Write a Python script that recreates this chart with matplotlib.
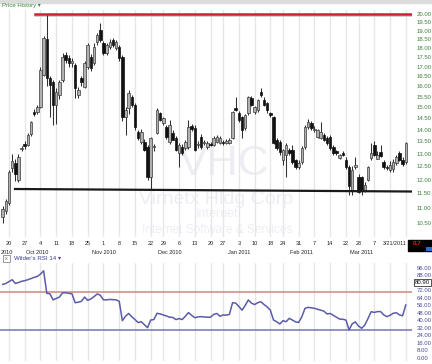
import matplotlib
matplotlib.use('Agg')
import matplotlib.pyplot as plt
import numpy as np
import pandas as pd
from matplotlib.patches import Rectangle
from matplotlib.ticker import NullLocator, FixedLocator

plt.rcParams['font.family'] = ['Liberation Sans', 'DejaVu Sans']

W, H = 432, 364

# ---------------- data ----------------
holidays = ['2010-11-25', '2010-12-24', '2011-01-17', '2011-02-21']
start_date = '2010-09-16'
end_date = '2011-03-21'

opens = [10.70, 10.90, 11.17, 12.45, 12.65, 12.00, 13.18, 13.40, 13.37, 13.80,
         14.80, 14.79, 15.01, 16.57, 18.50, 16.41, 16.21, 15.11, 15.58, 16.31,
         17.62, 17.46, 17.20, 17.08, 15.60, 16.41, 15.96, 16.98, 17.51, 17.19,
         18.34, 19.03, 18.28, 17.73, 18.06, 18.45, 18.00, 18.06, 17.51, 14.56,
         14.97, 15.48, 15.11, 13.91, 13.49, 13.49, 13.28, 12.11, 13.26, 13.87,
         14.74, 14.30, 14.12, 13.49, 13.87, 13.66, 13.04, 13.28, 13.24, 13.28,
         14.15, 14.08, 13.35, 13.70, 13.43, 13.28, 13.40, 13.37, 13.49, 13.45,
         13.47, 13.45, 13.45, 13.66, 14.97, 14.74, 14.56, 14.08, 14.74, 15.43,
         14.79, 14.88, 15.72, 15.34, 15.20, 14.74, 14.56, 13.57, 13.49, 12.76,
         12.96, 13.16, 13.16, 12.76, 12.49, 12.68, 13.28, 14.12, 14.30, 14.00,
         13.70, 13.66, 13.78, 13.66, 13.70, 13.28, 13.10, 12.84, 13.04, 12.76,
         12.46, 11.63, 12.49, 12.11, 12.11, 11.63, 12.00, 12.84, 13.37, 12.80,
         13.08, 12.68, 12.46, 12.38, 12.40, 12.65, 13.04, 12.76, 12.68]
highs = [11.05, 11.30, 12.35, 13.00, 12.80, 13.00, 13.30, 13.50, 13.85, 14.40,
         14.90, 15.10, 17.00, 18.70, 20.00, 16.50, 16.30, 15.90, 16.30, 17.73,
         17.80, 17.60, 17.45, 17.20, 15.95, 16.50, 17.30, 18.30, 17.70, 18.30,
         18.85, 19.46, 18.40, 18.30, 18.50, 18.55, 18.45, 18.15, 17.60, 15.00,
         15.80, 15.60, 15.20, 14.00, 14.05, 13.60, 13.35, 13.70, 13.40, 14.97,
         14.80, 14.55, 14.20, 14.43, 14.00, 13.75, 13.45, 13.40, 13.55, 14.43,
         14.25, 14.20, 13.50, 13.80, 13.55, 13.50, 13.48, 13.75, 13.78, 13.72,
         13.55, 13.60, 13.65, 14.85, 15.48, 14.85, 14.60, 14.70, 15.55, 15.55,
         15.05, 15.40, 15.91, 15.50, 15.25, 14.80, 14.60, 13.65, 13.55, 13.20,
         13.45, 13.25, 13.35, 12.80, 12.75, 13.30, 14.20, 14.45, 14.40, 14.15,
         14.05, 14.34, 13.85, 13.75, 13.78, 13.35, 13.15, 13.00, 13.10, 12.85,
         12.55, 12.50, 12.85, 12.20, 12.15, 11.90, 12.50, 13.45, 13.50, 13.10,
         13.37, 12.75, 12.55, 12.70, 12.80, 12.95, 13.10, 12.85, 13.49]
lows = [10.50, 10.80, 11.10, 12.30, 11.95, 11.90, 13.10, 13.20, 13.30, 13.75,
        14.60, 14.70, 14.95, 16.50, 16.00, 14.56, 14.21, 14.25, 15.40, 16.20,
        17.20, 17.00, 17.00, 15.43, 15.43, 16.00, 15.90, 16.90, 16.80, 17.10,
        18.20, 18.35, 17.60, 17.60, 17.95, 18.05, 17.90, 17.30, 14.40, 13.78,
        14.70, 15.00, 14.00, 13.55, 13.40, 13.10, 12.00, 11.63, 13.10, 13.80,
        14.40, 14.20, 13.60, 13.40, 13.55, 13.10, 12.49, 12.95, 13.15, 13.20,
        13.95, 13.10, 13.25, 13.20, 13.35, 13.20, 13.30, 13.30, 13.45, 13.40,
        13.35, 13.38, 13.40, 13.60, 14.85, 14.35, 13.66, 14.00, 14.65, 15.05,
        14.70, 14.80, 15.50, 15.05, 14.75, 14.55, 13.40, 13.15, 12.95, 12.55,
        12.11, 12.95, 12.60, 12.40, 12.40, 12.60, 13.20, 14.05, 14.00, 13.90,
        13.65, 13.60, 13.50, 13.35, 13.15, 12.95, 12.95, 12.80, 12.90, 12.40,
        11.45, 11.46, 12.40, 11.50, 11.46, 11.55, 11.95, 12.75, 12.90, 12.80,
        12.85, 12.40, 12.35, 12.30, 12.30, 12.55, 12.70, 12.50, 12.60]
closes = [10.95, 11.25, 12.30, 12.70, 12.20, 12.88, 13.22, 13.30, 13.78, 14.34,
          14.70, 15.01, 16.82, 18.57, 16.41, 16.06, 15.11, 15.72, 16.21, 17.51,
          17.35, 17.19, 17.30, 15.91, 15.80, 16.21, 17.19, 18.17, 16.93, 18.06,
          18.74, 18.45, 17.73, 18.17, 18.34, 18.17, 18.34, 17.46, 14.56, 14.88,
          15.67, 15.11, 14.12, 13.66, 13.91, 13.16, 12.11, 13.66, 13.30, 14.88,
          14.43, 14.52, 13.70, 14.21, 13.57, 13.16, 13.37, 13.04, 13.49, 14.12,
          14.05, 13.16, 13.38, 13.28, 13.46, 13.45, 13.36, 13.66, 13.70, 13.66,
          13.43, 13.50, 13.57, 14.79, 14.88, 14.43, 13.99, 14.65, 15.48, 15.11,
          15.01, 15.34, 15.58, 15.11, 14.88, 14.65, 13.45, 13.24, 13.08, 13.16,
          13.37, 13.04, 12.68, 12.49, 12.65, 13.24, 14.12, 14.34, 14.08, 14.02,
          13.99, 13.91, 13.57, 13.45, 13.24, 13.04, 13.02, 12.96, 12.96, 12.49,
          11.78, 12.38, 12.55, 11.56, 11.63, 11.82, 12.46, 13.04, 12.96, 12.96,
          12.90, 12.46, 12.44, 12.57, 12.68, 12.88, 12.76, 12.60, 13.45]
rsi = [78.5, 79.5, 81.5, 83.5, 79.5, 80.5, 81.8, 82.5, 83.5, 84.8,
       86.0, 87.0, 89.5, 93.0, 69.0, 68.5, 62.0, 63.5, 65.0, 69.5,
       69.5, 69.0, 68.5, 59.0, 59.5, 60.5, 65.0, 61.5, 63.0, 65.5,
       68.3, 67.0, 62.0, 62.0, 62.5, 62.2, 62.0, 60.5, 39.8, 44.5,
       47.5, 44.0, 41.0, 37.8, 38.7, 35.5, 32.3, 40.5, 41.0, 47.7,
       47.0, 45.9, 44.8, 43.5, 43.3, 41.0, 42.0, 41.0, 44.5, 48.4,
       45.5, 43.0, 43.8, 44.1, 43.8, 43.5, 43.5, 46.5, 47.5, 44.5,
       45.9, 45.7, 46.5, 59.0, 58.5, 55.0, 51.0, 56.0, 61.9, 58.5,
       57.0, 59.0, 60.0, 57.0, 54.5, 51.0, 40.5, 38.7, 36.3, 39.8,
       38.7, 42.3, 40.5, 38.5, 38.0, 44.0, 53.0, 54.0, 53.5, 53.0,
       52.0, 51.0, 50.0, 47.0, 47.5, 45.5, 43.5, 41.5, 41.3, 40.5,
       30.0, 36.5, 38.5, 34.0, 31.7, 35.2, 42.0, 49.4, 48.6, 49.5,
       49.5, 46.0, 44.1, 45.5, 47.7, 48.3, 46.0, 45.0, 56.5]

price_ticks = [20.0, 19.5, 19.0, 18.5, 18.0, 17.5, 17.0, 16.5, 16.0, 15.5, 15.0,
               14.5, 14.0, 13.5, 13.0, 12.5, 12.0, 11.5, 11.0, 10.5]
rsi_ticks = [96, 88, 72, 64, 56, 48, 40, 32, 24, 16, 8, 0]
rsi_box_value = 80.90
rsi_upper, rsi_lower = 70, 30
resistance_level = 20.0
resistance_start = '2010-09-30'
support_start, support_end = 11.66, 11.57
month_labels = ['2010', 'Oct 2010', 'Nov 2010', 'Dec 2010', 'Jan 2011',
                'Feb 2011', 'Mar 2011']
last_label = '3/21/2011'

# ---------------- dates ----------------
dates = pd.bdate_range(start_date, end_date)
dates = dates[~dates.isin(pd.to_datetime(holidays))]
n = len(dates)
idx = np.arange(n)
o = np.array(opens); h = np.array(highs); l = np.array(lows); c = np.array(closes)

wk = pd.Series(idx, index=dates)
week_first = wk.groupby(dates.to_period('W-SUN')).first().values
week_first = [int(i) for i in week_first if dates[i] >= pd.Timestamp('2010-09-20')]
month_first = wk.groupby(dates.to_period('M')).first().values

XMIN, XMAX = -0.857, 129.98

fig = plt.figure(figsize=(W / 100, H / 100), dpi=100)
fig.patch.set_facecolor('white')

def box(left, top, right, bottom):
    return [left / W, 1 - bottom / H, (right - left) / W, (bottom - top) / H]

fig.patches.append(Rectangle((0, 1 - 2.5 / H), 1, 2.5 / H, transform=fig.transFigure,
                             color='#dcdcdc', zorder=0))

# ---------------- price panel ----------------
ax = fig.add_axes(box(0, 10, 412, 237))
ax.set_yscale('log')
ax.set_ylim(10.056, 20.248)
ax.set_xlim(XMIN, XMAX)
for s in ax.spines.values():
    s.set_visible(False)

ax.set_xticks(week_first)
ax.grid(axis='x', color='#e6e6e6', lw=1.0, zorder=0)
ax.tick_params(axis='x', length=0, pad=3.2, labelsize=4.0, colors='#222222')
xlabels = [str(dates[i].day) for i in week_first]
xlabels[-1] = ''
xlabels[-2] = ''
ax.set_xticklabels(xlabels)

ax.yaxis.tick_right()
ax.yaxis.set_major_locator(FixedLocator(price_ticks))
ax.yaxis.set_minor_locator(NullLocator())
ax.set_yticklabels(['%.2f' % v for v in price_ticks])
ax.tick_params(axis='y', length=0, pad=3.5, labelsize=4.3, colors='#3d7f3d')

# watermark
wm = '#eceef3'
ax.text(0.545, 0.32, 'VHC', transform=ax.transAxes, ha='center', va='center',
        fontsize=31, color=wm, zorder=0)
ax.text(0.525, 0.163, 'Virnetx Hldg Corp', transform=ax.transAxes, ha='center',
        va='center', fontsize=14, color=wm, zorder=0)
ax.text(0.527, 0.101, 'Internet', transform=ax.transAxes, ha='center', va='center',
        fontsize=9, color=wm, zorder=0)
ax.text(0.527, 0.031, 'Internet Software & Services', transform=ax.transAxes,
        ha='center', va='center', fontsize=8.6, color=wm, zorder=0)

# candles
up = c >= o
ax.vlines(idx, l, h, color='#303030', lw=0.75, zorder=3)
body_lo = np.minimum(o, c)
body_h = np.maximum(np.abs(c - o), 0.025)
ax.bar(idx[up], body_h[up], bottom=body_lo[up], width=0.8, color='#b0b0b0',
       edgecolor='#3a3a3a', lw=0.5, zorder=4)
ax.bar(idx[~up], body_h[~up], bottom=body_lo[~up], width=0.8, color='#111111',
       edgecolor='#111111', lw=0.5, zorder=4)

# resistance & support lines
rs = wk[pd.Timestamp(resistance_start)] + 0.3
ax.plot([rs, XMAX], [resistance_level * 0.995] * 2, color='#c8c8c8', lw=1.2, zorder=2)
ax.plot([rs, XMAX], [resistance_level, resistance_level], color='#d0202e', lw=1.8, zorder=5)
ax.plot([3.9, XMAX], [support_start, support_end], color='#1a1a1a', lw=1.6, zorder=5)

# month labels
trans = ax.get_xaxis_transform()
my = -15 / 227
for k, i in enumerate(month_first):
    if k == 0:
        ax.text(XMIN + 0.1, my, month_labels[k], transform=trans, ha='left', va='center',
                fontsize=4.0, color='#222222')
    else:
        ax.text(i, my, month_labels[k], transform=trans, ha='center', va='center',
                fontsize=4.0, color='#222222')
ax.text(n - 1 - 3.6, -6.3 / 227, last_label, transform=trans, ha='center', va='center',
        fontsize=3.9, color='#222222')

# ---------------- RSI panel ----------------
ax2 = fig.add_axes(box(0, 263, 412, 361))
ax2.set_xlim(XMIN, XMAX)
ax2.set_ylim(-3.2, 101.33)
for s in ax2.spines.values():
    s.set_visible(False)
ax2.set_xticks(week_first)
ax2.grid(axis='x', color='#e6e6e6', lw=1.0, zorder=0)
ax2.tick_params(axis='x', length=0, labelbottom=False)
ax2.yaxis.tick_right()
ax2.set_yticks(rsi_ticks)
ax2.set_yticklabels(['%.2f' % v for v in rsi_ticks])
ax2.tick_params(axis='y', length=0, pad=3.5, labelsize=4.3, colors='#4a4a9a')
ax2.axhline(rsi_upper, color='#c98a80', lw=1.1, zorder=2)
ax2.axhline(rsi_lower, color='#7474b8', lw=1.1, zorder=2)
ax2.plot(idx, rsi, color='#5a5ca8', lw=1.1, zorder=3)
ax2.text(1.007, rsi_box_value, '%.2f' % rsi_box_value, transform=ax2.get_yaxis_transform(),
         ha='left', va='center', fontsize=4.3, color='#111111', clip_on=False,
         bbox=dict(boxstyle='square,pad=0.15', fc='white', ec='#333333', lw=0.6))

# titles
fig.text(2 / W, 1 - 5 / H, 'Price History \u25be', color='#3a8a3a', fontsize=4.3,
         ha='left', va='center')
fig.text(14 / W, 1 - 258.5 / H, "Wilder's RSI 14 \u25be", color='#3a3a9a', fontsize=4.4,
         ha='left', va='center')
fig.patches.append(Rectangle((2.5 / W, 1 - 262 / H), 7 / W, 7 / H, transform=fig.transFigure,
                             fc='white', ec='#888888', lw=0.6))
fig.text(6 / W, 1 - 258.5 / H, 'x', color='#666666', fontsize=4, ha='center', va='center')

# corner black box
fig.patches.append(Rectangle((408 / W, 1 - 251 / H), 24 / W, 11 / H, transform=fig.transFigure,
                             fc='black', ec='black'))
fig.text(413 / W, 1 - 243.5 / H, '0.7', color='#e02020', fontsize=4.5, ha='left',
         va='center', weight='bold')
fig.patches.append(Rectangle((426 / W, 1 - 251 / H), 6 / W, 4 / H, transform=fig.transFigure,
                             fc='#2a6fd0', ec='none'))

fig.savefig('out.png', dpi=100)
